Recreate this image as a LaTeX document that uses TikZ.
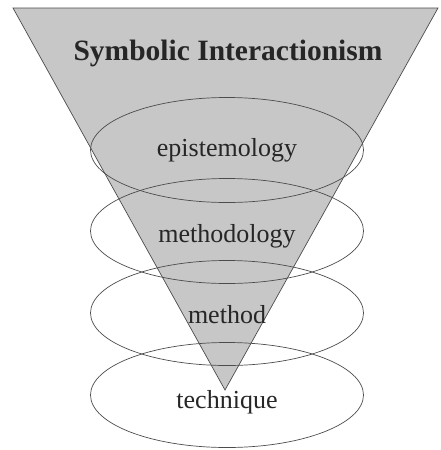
\documentclass[tikz,border=0pt]{standalone}
\usepackage{fontspec}
\setmainfont{Liberation Serif}
\usetikzlibrary{shapes.geometric,calc}
\begin{document}
\begin{tikzpicture}[x=1pt,y=-1pt,
  level/.style={ellipse,draw=black!70,line width=0.7pt,minimum width=273pt,minimum height=105pt,inner sep=0pt},
  lab/.style={font=\fontsize{26}{30}\selectfont,text=black!85,inner sep=0pt},
  tri/.style={fill=black!22,draw=black!70,line width=0.7pt}]
\useasboundingbox (0,0) rectangle (440,450);
\coordinate (tl) at (13,8);
\coordinate (tr) at (438,8);
\coordinate (apex) at (225,390);
\fill[tri] (tl) -- (tr) -- (apex) -- cycle;
\node[level] (epi) at (227,150) {};
\node[level] (meth) at (227,231) {};
\node[level] (mtd) at (227,313) {};
\node[level] (tech) at (227,395) {};
\node[font=\bfseries\fontsize{29.5}{34}\selectfont,text=black!85,inner sep=0pt] (title) at (228,53) {Symbolic Interactionism};
\node[lab] (epil) at ($(epi.center)+(0,0)$) {epistemology};
\node[lab] (methl) at ($(meth.center)+(0,5)$) {methodology};
\node[lab] (mtdl) at ($(mtd.center)+(0,2)$) {method};
\node[lab] (techl) at ($(tech.center)+(0,7)$) {technique};
\end{tikzpicture}
\end{document}
